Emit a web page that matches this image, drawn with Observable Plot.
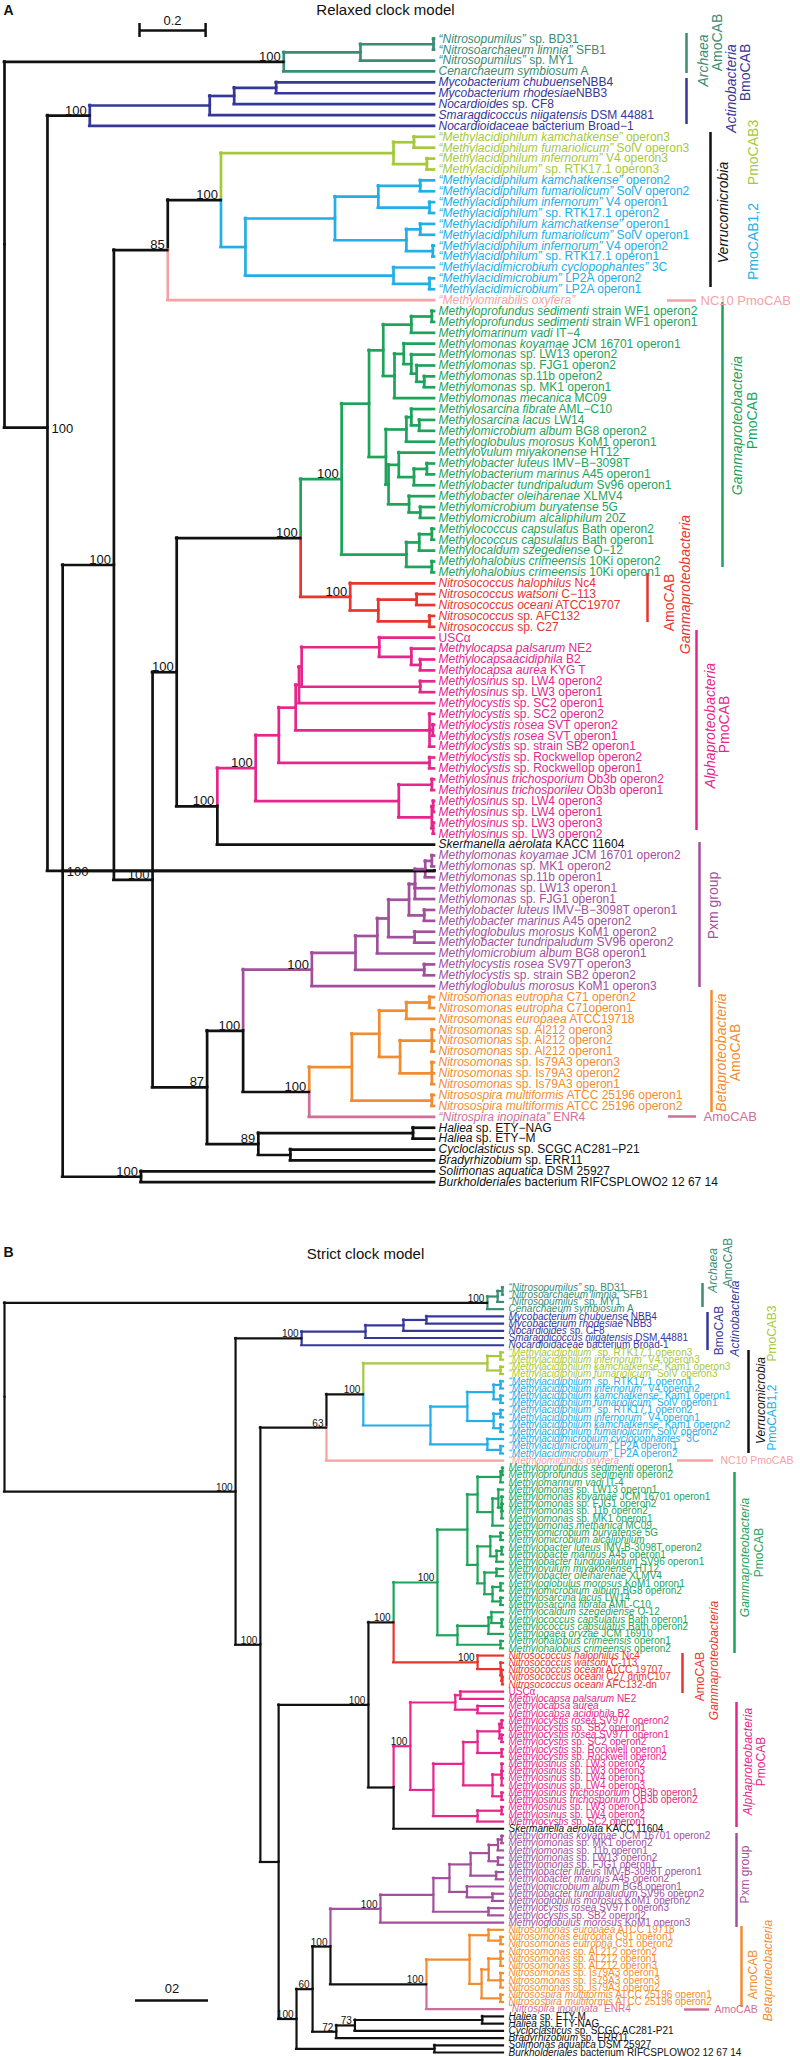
<!DOCTYPE html>
<html><head><meta charset="utf-8">
<script src="https://cdn.jsdelivr.net/npm/d3@7"></script>
<script src="https://cdn.jsdelivr.net/npm/@observablehq/plot@0.6"></script>
<style>body{margin:0;background:#fff;width:800px} svg{display:block}</style>
</head><body><div id="chart"></div>
<script>
// ---------------- DATA ----------------
// Leaves of panel A (group key, label; *...* = italic)
const leavesA = [
 ["arc","*“Nitrosopumilus”* sp. BD31"],["arc","*“Nitrosoarchaeum limnia”* SFB1"],["arc","*“Nitrosopumilus”* sp. MY1"],["arc","*Cenarchaeum symbiosum* A"],
 ["act","*Mycobacterium chubuense*NBB4"],["act","*Mycobacterium rhodesiae*NBB3"],["act","*Nocardioides* sp. CF8"],["act","*Smaragdicoccus niigatensis* DSM 44881"],["act","*Nocardioidaceae* bacterium Broad−1"],
 ["p3","*“Methylacidiphilum kamchatkense”* operon3"],["p3","*“Methylacidiphilum fumariolicum”* SolV operon3"],["p3","*“Methylacidiphilum infernorum”* V4 operon3"],["p3","*“Methylacidiphilum”* sp. RTK17.1 operon3"],
 ["p12","*“Methylacidiphilum kamchatkense”* operon2"],["p12","*“Methylacidiphilum fumariolicum”* SolV operon2"],["p12","*“Methylacidiphilum infernorum”* V4 operon1"],["p12","*“Methylacidiphilum”* sp. RTK17.1 operon2"],
 ["p12","*“Methylacidiphilum kamchatkense”* operon1"],["p12","*“Methylacidiphilum fumariolicum”* SolV operon1"],["p12","*“Methylacidiphilum infernorum”* V4 operon2"],["p12","*“Methylacidiphilum”* sp. RTK17.1 operon1"],
 ["p12","*“Methylacidimicrobium cyclopophantes”* 3C"],["p12","*“Methylacidimicrobium”* LP2A operon2"],["p12","*“Methylacidimicrobium”* LP2A operon1"],
 ["nc10","*“Methylomirabilis oxyfera”*"],
 ["gam","*Methyloprofundus sedimenti* strain WF1 operon2"],["gam","*Methyloprofundus sedimenti* strain WF1 operon1"],["gam","*Methylomarinum vadi* IT−4"],
 ["gam","*Methylomonas koyamae* JCM 16701 operon1"],["gam","*Methylomonas* sp. LW13 operon2"],["gam","*Methylomonas* sp. FJG1 operon2"],["gam","*Methylomonas* sp.11b operon2"],["gam","*Methylomonas* sp. MK1 operon1"],["gam","*Methylomonas mecanica* MC09"],
 ["gam","*Methylosarcina fibrate* AML−C10"],["gam","*Methylosarcina lacus* LW14"],["gam","*Methylomicrobium album* BG8 operon2"],["gam","*Methyloglobulus morosus* KoM1 operon1"],
 ["gam","*Methylovulum miyakonense* HT12"],["gam","*Methylobacter luteus* IMV−B−3098T"],["gam","*Methylobacterium marinus* A45 operon1"],["gam","*Methylobacter tundripaludum* Sv96 operon1"],
 ["gam","*Methylobacter oleiharenae* XLMV4"],["gam","*Methylomicrobium buryatense* 5G"],["gam","*Methylomicrobium alcaliphilum* 20Z"],
 ["gam","*Methylococcus capsulatus* Bath operon2"],["gam","*Methylococcus capsulatus* Bath operon1"],["gam","*Methylocaldum szegediense* O−12"],["gam","*Methylohalobius crimeensis* 10Ki operon2"],["gam","*Methylohalobius crimeensis* 10Ki operon1"],
 ["amog","*Nitrosococcus halophilus* Nc4"],["amog","*Nitrosococcus watsoni* C−113"],["amog","*Nitrosococcus oceani* ATCC19707"],["amog","*Nitrosococcus* sp. AFC132"],["amog","*Nitrosococcus* sp. C27"],
 ["alp","USCα"],["alp","*Methylocapsa palsarum* NE2"],["alp","*Methylocapsaacidiphila* B2"],["alp","*Methylocapsa aurea* KYG T"],
 ["alp","*Methylosinus* sp. LW4 operon2"],["alp","*Methylosinus* sp. LW3 operon1"],["alp","*Methylocystis* sp. SC2 operon1"],
 ["alp","*Methylocystis* sp. SC2 operon2"],["alp","*Methylocystis rosea* SVT operon2"],["alp","*Methylocystis rosea* SVT operon1"],["alp","*Methylocystis* sp. strain SB2 operon1"],
 ["alp","*Methylocystis* sp. Rockwellop operon2"],["alp","*Methylocystis* sp. Rockwellop operon1"],
 ["alp","*Methylosinus trichosporium* Ob3b operon2"],["alp","*Methylosinus trichosporileu* Ob3b operon1"],["alp","*Methylosinus* sp. LW4 operon3"],["alp","*Methylosinus* sp. LW4 operon1"],["alp","*Methylosinus* sp. LW3 operon3"],["alp","*Methylosinus* sp. LW3 operon2"],
 ["blk","*Skermanella aerolata* KACC 11604"],
 ["pxm","*Methylomonas koyamae* JCM 16701 operon2"],["pxm","*Methylomonas* sp. MK1 operon2"],["pxm","*Methylomonas* sp.11b operon1"],["pxm","*Methylomonas* sp. LW13 operon1"],["pxm","*Methylomonas* sp. FJG1 operon1"],
 ["pxm","*Methylobacter luteus* IMV−B−3098T operon1"],["pxm","*Methylobacter marinus* A45 operon2"],["pxm","*Methyloglobulus morosus* KoM1 operon2"],["pxm","*Methylobacter tundripaludum* SV96 operon2"],
 ["pxm","*Methylomicrobium album* BG8 operon1"],["pxm","*Methylocystis rosea* SV97T operon3"],["pxm","*Methylocystis* sp. strain SB2 operon2"],["pxm","*Methyloglobulus morosus* KoM1 operon3"],
 ["bet","*Nitrosomonas eutropha* C71 operon2"],["bet","*Nitrosomonas eutropha* C71operon1"],["bet","*Nitrosomonas europaea* ATCC19718"],
 ["bet","*Nitrosomonas* sp. Al212 operon3"],["bet","*Nitrosomonas* sp. Al212 operon2"],["bet","*Nitrosomonas* sp. Al212 operon1"],
 ["bet","*Nitrosomonas* sp. Is79A3 operon3"],["bet","*Nitrosomonas* sp. Is79A3 operon2"],["bet","*Nitrosomonas* sp. Is79A3 operon1"],
 ["bet","*Nitrosospira multiformis* ATCC 25196 operon1"],["bet","*Nitrosospira multiformis* ATCC 25196 operon2"],
 ["nsp","*“Nitrospira inopinata”* ENR4"],
 ["blk","*Haliea* sp. ETY−NAG"],["blk","*Haliea* sp. ETY−M"],["blk","*Cycloclasticus* sp. SCGC AC281−P21"],["blk","*Bradyrhizobium* sp. ERR11"],
 ["blk","*Solimonas aquatica* DSM 25927"],["blk","*Burkholderiales* bacterium RIFCSPLOWO2 12 67 14"]
];

const leavesB = [
 ["arc","*“Nitrosopumilus”* sp. BD31"],["arc","*“Nitrosoarchaeum limnia”* SFB1"],["arc","*“Nitrosopumilus”* sp. MY1"],["arc","*Cenarchaeum symbiosum* A"],
 ["act","*Mycobacterium chubuense* NBB4"],["act","*Mycobacterium rhodesiae* NBB3"],["act","*Nocardioides* sp. CF8"],["act","*Smaragdicoccus niigatensis* DSM 44881"],["act","*Nocardioidaceae* bacterium Broad-1"],
 ["p3","*“Methylacidiphilum”* sp. RTK17.1 operon3"],["p3","*“Methylacidiphilum infernorum”* V4 operon3"],["p3","*“Methylacidiphilum kamchatkense”* Kam1 operon3"],["p3","*“Methylacidiphilum fumariolicum”* SolV operon3"],
 ["p12","*“Methylacidiphilum”* sp. RTK17.1 operon1"],["p12","*“Methylacidiphilum infernorum”* V4 operon2"],["p12","*“Methylacidiphilum kamchatkense”* Kam1 operon1"],["p12","*“Methylacidiphilum fumariolicum”* SolV operon1"],
 ["p12","*“Methylacidiphilum”* sp. RTK17.1 operon2"],["p12","*“Methylacidiphilum infernorum”* V4 operon1"],["p12","*“Methylacidiphilum kamchatkense”* Kam1 operon2"],["p12","*“Methylacidiphilum fumariolicum”* SolV operon2"],
 ["p12","*“Methylacidimicrobium cyclopophantes”* 3C"],["p12","*“Methylacidimicrobium”* LP2A operon1"],["p12","*“Methylacidimicrobium”* LP2A operon2"],
 ["nc10","*“Methylomirabilis oxyfera”*"],
 ["gam","*Methyloprofundus sedimenti* operon1"],["gam","*Methyloprofundus sedimenti* operon2"],["gam","*Methylomarinum vadi* IT-4"],
 ["gam","*Methylomonas* sp. LW13 operon1"],["gam","*Methylomonas koyamae* JCM 16701 operon1"],["gam","*Methylomonas* sp. FJG1 operon2"],["gam","*Methylomonas* sp. 11b operon2"],["gam","*Methylomonas* sp. MK1 operon1"],["gam","*Methylomonas methanica* MC09"],
 ["gam","*Methylomicrobium buryatense* 5G"],["gam","*Methylomicrobium alcaliphilum*"],["gam","*Methylobacter luteus* IMV-B-3098T operon2"],["gam","*Methylobacte marinus* A45 operon1"],["gam","*Methylobacter tundripaludum* SV96 operon1"],
 ["gam","*Methylovulum miyakonense* HT12"],["gam","*Methylobacter oleiharenae* XLMV4"],["gam","*Methyloglobulus morosus* KoM1 opron1"],["gam","*Methylomicrobium album* BG8 operon2"],["gam","*Methylosarcina lacus* LW14"],["gam","*Methylosarcina fibrata* AML-C10"],
 ["gam","*Methylocaldum szegediense* O-12"],["gam","*Methylococcus capsulatus* Bath operon1"],["gam","*Methylococcus capsulatus* Bath operon2"],["gam","*Methylogaea oryzae* JCM 16910"],["gam","*Methylohalobius crimeensis* operon1"],["gam","*Methylohalobius crimeensis* operon2"],
 ["amog","*Nitrosococcus halophilus* Nc4"],["amog","*Nitrosococcus watsoni* C-113"],["amog","*Nitrosococcus oceani* ATCC 19707"],["amog","*Nitrosococcus oceani* C27 dnmC107"],["amog","*Nitrosococcus oceani* AFC132-dn"],
 ["alp","USCα"],["alp","*Methylocapsa palsarum* NE2"],["alp","*Methylocapsa aurea*"],["alp","*Methylocapsa acidiphila* B2"],
 ["alp","*Methylocystis rosea* SV97T operon2"],["alp","*Methylocystis* sp. SB2 operon1"],["alp","*Methylocystis rosea* SV97T operon1"],["alp","*Methylocystis* sp. SC2 operon2"],
 ["alp","*Methylocystis* sp. Rockwell operon1"],["alp","*Methylocystis* sp. Rockwell operon2"],
 ["alp","*Methylosinus* sp. LW3 operon2"],["alp","*Methylosinus* sp. LW3 operon3"],["alp","*Methylosinus* sp. LW4 operon1"],["alp","*Methylosinus* sp. LW4 operon3"],
 ["alp","*Methylosinus trichosporium* OB3b operon1"],["alp","*Methylosinus trichosporium* OB3b operon2"],
 ["alp","*Methylosinus* sp. LW3 operon1"],["alp","*Methylosinus* sp. LW4 operon2"],["alp","*Methylocystis* sp. SC2 operon1"],
 ["blk","*Skermanella aerolata* KACC 11604"],
 ["pxm","*Methylomonas koyamae* JCM 16701 operon2"],["pxm","*Methylomonas* sp. MK1 operon2"],["pxm","*Methylomonas* sp. 11b operon1"],["pxm","*Methylomonas* sp. LW13 operon2"],["pxm","*Methylomonas* sp. FJG1 operon1"],
 ["pxm","*Methylobacter luteus* IMV-B-3098T operon1"],["pxm","*Methylobacter marinus* A45 operon2"],["pxm","*Methylomicrobium album* BG8 operon1"],["pxm","*Methylobacter tundripaludum* SV96 operon2"],["pxm","*Methyloglobulus morosus* KoM1 operon2"],
 ["pxm","*Methylocystis rosea* SV97T operon3"],["pxm","*Methylocystis* sp. SB2 operon2"],["pxm","*Methyloglobulus morosus* KoM1 operon3"],
 ["bet","*Nitrosomonas europaea* ATCC 19718"],["bet","*Nitrosomonas eutropha* C91 operon1"],["bet","*Nitrosomonas eutropha* C91 operon2"],
 ["bet","*Nitrosomonas* sp. AL212 operon2"],["bet","*Nitrosomonas* sp. AL212 operon1"],["bet","*Nitrosomonas* sp. AL212 operon3"],
 ["bet","*Nitrosomonas* sp. Is79A3 operon1"],["bet","*Nitrosomonas* sp. Is79A3 operon3"],["bet","*Nitrosomonas* sp. Is79A3 operon2"],
 ["bet","*Nitrosospira multiformis* ATCC 25196 operon1"],["bet","*Nitrosospira multiformis* ATCC 25196 operon2"],
 ["nsp","*“Nitrospira inopinata”* ENR4"],
 ["blk","*Haliea* sp. ETY-M"],["blk","*Haliea* sp. ETY-NAG"],["blk","*Cycloclasticus* sp. SCGC AC281-P21"],["blk","*Bradyrhizobium* sp. ERR11"],
 ["blk","*Solimonas aquatica* DSM 25927"],["blk","*Burkholderiales* bacterium RIFCSPLOWO2 12 67 14"]
];

// Tree topology: * = next leaf, ":h" = node height (from tips, subst./site), "#n" = posterior support,
// flag k = stem drawn black, r = support label right of node, "@row" = node row position as drawn
const A_arc = "(((**):0.003,*):0.224,*):0.456#100k";
const A_act = "((((**):0.479,*):0.606,*):0.680,*):1.043#100k";
const A_p3  = "((**):0.062,(**):0.023):0.124";
const A_p12 = "((((**):0.043,(**):0.015):0.170,((**):0.043,(**):0.005):0.085):0.301,(*,(**):0.015):0.124):0.572";
const A_g4  = "(((**):0.008,*):0.070,((*,(*,(*,(**):0.031):0.054):0.070):0.093,*):0.121):0.155";
const A_g5  = "(((*,(**):0.046):0.070,*):0.085,((*,((**):0.023,*):0.062):0.108,(*,(**):0.043):0.077):0.139):0.147";
const A_g3  = "(((**):0.008,*):0.046,(**):0.008):0.085";
const A_nit = "(*,((**):0.054,(**):0.015):0.170):0.255#100";
const A_mc  = "(*,(*,(**):0.043):0.070):0.167";
const A_alp = `(((((${A_mc},(**):0.043):0.402,*):0.410,(*,(**):0.005,*):0.015):0.420,(**):0.015):0.471,((**):0.008,((**):0.004,(**):0.004):0.008):0.108):0.541#100`;
const A_pxm = "(((((((**):0.008,*):0.028,*,*):0.059,(**):0.031):0.077,(**):0.060):0.139,*):0.173,(**):0.031):0.239";
const A_bet = "((((**):0.015,*):0.085,((***):0.008,(***):0.008):0.104):0.167,(**):0.008):0.250";
const A_og1 = "((**):0.065,(**):0.436):0.533#89";
const A_gn  = `(((${A_g4},${A_g5}):0.198,${A_g3}):0.281#100,${A_nit}):0.405#100`;
const A_345 = `(${A_gn},(${A_alp},*):0.657#100):0.780#100`;
const A_87  = `(((${A_pxm},*):0.371#100,(${A_bet},*):0.379#100):0.579#100,${A_og1}):0.688#87`;
const A_85  = `((${A_p3},${A_p12}):0.646#100,*):0.807#85`;
const treeA = `(${A_arc},(${A_act},(((${A_85},(${A_345},${A_87}):0.853#100):0.970#100,(**):0.888#100):1.125#100r)):1.171#100r@36.7):1.301`;

const B_arc = "(((**):0.003,*):0.016,*):0.044#100k";
const B_act = "((((**):0.211,*):0.274,*):0.378,*):0.553#100k";
const B_p3  = "((**):0.008,(**):0.008):0.044";
const B_p12 = "((((**):0.008,(**):0.008):0.027,((**):0.008,(**):0.008):0.027):0.099,(*,(**):0.008):0.044):0.200";
const B_ga1 = "(((**):0.003,*):0.008,((*,(****):0.005):0.014,*):0.030):0.071";
const B_ga2 = "(((**):0.008,((**):0.005,*):0.019):0.036,((**):0.019,((**):0.008,(**):0.008):0.030):0.052):0.071";
const B_gb  = "(((*,(**):0.005):0.033,*):0.041,(**):0.008):0.126";
const B_nit = "(*,(*,(*,(**):0.003):0.005):0.008):0.071#100";
const B_mc  = "((**):0.118,(**):0.071):0.132";
const B_a1  = "(((((**):0.005,(**):0.005):0.011,(**):0.005):0.071,((****):0.005,(**):0.005):0.030):0.110,((**):0.005,*):0.071):0.192";
const B_pxm = "((((((**):0.005,*):0.015,(**):0.015):0.040,(**):0.020):0.090,(*,(**):0.030):0.100):0.148,(**):0.041):0.192";
const B_bet = "((*,(**):0.008):0.041,(((***):0.008,(***):0.008):0.041,(**):0.008):0.060):0.093";
const B_og1 = "(((**):0.058,*):0.407#73,*):0.458#72";
const B_gn  = `(((${B_ga1},${B_ga2}):0.099,${B_gb}):0.181#100,${B_nit}):0.301#100`;
const B_368 = `(${B_gn},((${B_mc},${B_a1}):0.255#100,*):0.301):0.370#100`;
const B_296 = `((((${B_pxm},*):0.337#100,(${B_bet},*):0.211#100):0.474#100,${B_og1}):0.523#60,(**):0.189):0.567#100`;
const B_63  = `((${B_p3},${B_p12}):0.384#100,*):0.485#63`;
const treeB = `(${B_arc},(${B_act},(${B_63},(${B_368},${B_296}):0.616):0.666#100):0.734#100):1.367`;

const scaleBarValue = 0.2;
const titles = ["Relaxed clock model", "Strict clock model"];
const panelLetters = ["A", "B"];
const scaleLabels = ["0.2", "02"];

// ---------------- STYLE / LAYOUT ----------------
const groupColors = {
  arc:"#3a8c74", act:"#36379a", p3:"#a6c93b", p12:"#22aee6", nc10:"#f4a2a4",
  gam:"#1ea35a", amog:"#e8352f", alp:"#e6268b", pxm:"#a2509c", bet:"#f28c30",
  nsp:"#cf6f98", blk:"#111111"
};
// annotation layout in page pixels: line [x, y1, y2], texts [text, italic, x, centerY], hline [x1, x2, y]
const annA = [
 {c:"arc", line:[686,33,73], texts:[["Archaea",1,703,60],["AmoCAB",0,717,42]]},
 {c:"act", line:[686,78,124], texts:[["Actinobacteria",1,731,88],["BmoCAB",0,745,72]]},
 {c:"blk", line:[710,132,287], texts:[["Verrucomicrobia",1,723,212]]},
 {c:"p3", texts:[["PmoCAB3",0,753,152]]},
 {c:"p12", texts:[["PmoCAB1,2",0,753,241]]},
 {c:"nc10", hline:[667,696,300], htext:["NC10 PmoCAB",700,300]},
 {c:"gam", line:[722,302,567], texts:[["Gammaproteobacteria",1,737,425],["PmoCAB",0,752,420]]},
 {c:"amog", line:[647,573,622], texts:[["AmoCAB",0,669,602],["Gammaproteobacteria",1,685,584]]},
 {c:"alp", line:[696,630,830], texts:[["Alphaproteobacteria",1,710,725],["PmoCAB",0,724,724]]},
 {c:"pxm", line:[699,842,987], texts:[["Pxm group",0,713,905]]},
 {c:"bet", line:[711,990,1112], texts:[["Betaproteobacteria",1,721,1052],["AmoCAB",0,735,1052]]},
 {c:"nsp", hline:[668,696,1116], htext:["AmoCAB",703,1116]}
];
const annB = [
 {c:"arc", line:[702,1283,1307], texts:[["Archaea",1,713,1270],["AmoCAB",0,728,1262]]},
 {c:"act", line:[707,1312,1350], texts:[["BmoCAB",0,719,1330],["Actinobacteria",1,735,1318]]},
 {c:"blk", line:[748,1350,1453], texts:[["Verrucomicrobia",1,761,1400]]},
 {c:"p3", texts:[["PmoCAB3",0,772,1333]]},
 {c:"p12", texts:[["PmoCAB1,2",0,772,1417]]},
 {c:"nc10", hline:[677,713,1460], htext:["NC10 PmoCAB",720,1460]},
 {c:"gam", line:[734,1472,1653], texts:[["Gammaproteobacteria",1,745,1557],["PmoCAB",0,759,1552]]},
 {c:"amog", line:[682,1653,1693], texts:[["AmoCAB",0,700,1676],["Gammaproteobacteria",1,714,1660]]},
 {c:"alp", line:[736,1702,1827], texts:[["Alphaproteobacteria",1,748,1761],["PmoCAB",0,761,1761]]},
 {c:"pxm", line:[736,1833,1927], texts:[["Pxm group",0,745,1874]]},
 {c:"bet", line:[741,1926,2007], texts:[["AmoCAB",0,753,1974],["Betaproteobacteria",1,768,1970]]},
 {c:"nsp", hline:[684,709,2009], htext:["AmoCAB",714,2009]}
];

const cfgA = {leaves: leavesA, tree: treeA, ann: annA, top: 0, height: 1220,
  xRange:[4,434], rows:[38.3,1181.7], lw:2.7, leafFont:12, labelDx:4, suppFont:13,
  annFont:14, annHFont:13, title: titles[0], letter: panelLetters[0], titleXY:[385,10], letterXY:[3,10],
  sb:{x:139, y:30, caps:true, labelY:20, label: scaleLabels[0], font:13}};
const cfgB = {leaves: leavesB, tree: treeB, ann: annB, top: 1220, height: 837,
  xRange:[4,503], rows:[1287,2052], lw:2.2, leafFont:10, labelDx:5, suppFont:10,
  annFont:12, annHFont:10.5, title: titles[1], letter: panelLetters[1], titleXY:[365,1254], letterXY:[3,1252],
  sb:{x:135, y:2000, caps:false, labelY:1988, label: scaleLabels[1], font:13}};

// ---------------- TREE HELPERS ----------------
function parseTree(src) {
  const s = src.replace(/\s+/g, "");
  let i = 0, leaf = 0;
  const readNum = () => { const m = /^[0-9.]+/.exec(s.slice(i)); i += m[0].length; return +m[0]; };
  function node() {
    if (s[i] === "*") { i++; return {leaf: leaf++, height: 0, children: []}; }
    if (s[i] !== "(") throw new Error("bad tree at " + i + ": " + s.slice(i, i + 20));
    i++;
    const children = [];
    while (s[i] !== ")") { children.push(node()); if (s[i] === ",") i++; }
    i++;
    const n = {children, height: 0};
    if (s[i] === ":") { i++; n.height = readNum(); }
    if (s[i] === "#") {
      i++; n.support = readNum();
      while (s[i] === "r" || s[i] === "k") { if (s[i] === "r") n.side = "r"; else n.black = true; i++; }
    }
    if (s[i] === "@") { i++; n.row = readNum(); }
    return n;
  }
  const root = node();
  root.nLeaves = leaf;
  return root;
}
function layoutTree(root, leaves) {
  (function walk(n) {
    if (n.leaf !== undefined) { n.y = n.leaf + 1; n.group = leaves[n.leaf][0]; n.stem = n.group; return; }
    n.children.forEach(walk);
    n.y = n.row !== undefined ? n.row : (n.children[0].y + n.children[n.children.length - 1].y) / 2;
    const gs = new Set(n.children.map(c => c.group));
    n.group = gs.size === 1 ? [...gs][0] : "blk";
    n.stem = n.black ? "blk" : n.group;
  })(root);
  const nodes = [], hseg = [], vseg = [];
  (function collect(n, p) {
    nodes.push(n);
    if (p) hseg.push({x1: p.height, x2: n.height, y: n.y, g: n.stem});
    n.children.forEach(c => { vseg.push({x: n.height, y1: n.y, y2: c.y, g: c.stem}); collect(c, n); });
  })(root, null);
  return {nodes, hseg, vseg};
}

function panel(cfg) {
  const root = parseTree(cfg.tree);
  if (root.nLeaves !== cfg.leaves.length) console.error("leaf count mismatch", root.nLeaves, cfg.leaves.length);
  const {nodes, hseg, vseg} = layoutTree(root, cfg.leaves);
  const n = cfg.leaves.length, H = root.height;
  const [x0, x1] = cfg.xRange;
  const r0 = cfg.rows[0] - cfg.top, r1 = cfg.rows[1] - cfg.top;
  const xu = px => H * (x1 - px) / (x1 - x0);
  const yu = py => 1 + (py - cfg.top - r0) * (n - 1) / (r1 - r0);
  const col = g => groupColors[g];
  const leafNodes = nodes.filter(d => d.leaf !== undefined);
  const supp = nodes.filter(d => d.support !== undefined);
  const lines = cfg.ann.filter(a => a.line);
  const hlines = cfg.ann.filter(a => a.hline);
  const rot = cfg.ann.flatMap(a => (a.texts || []).map(t => ({c: a.c, text: t[0], italic: t[1], x: t[2], y: t[3]})));
  const htexts = cfg.ann.filter(a => a.htext).map(a => ({c: a.c, text: a.htext[0], x: a.htext[1], y: a.htext[2]}));
  const sbH = xu(cfg.sb.x);
  const marks = [
    Plot.ruleX(vseg, {x: "x", y1: "y1", y2: "y2", stroke: d => col(d.g), strokeWidth: cfg.lw, strokeLinecap: "square"}),
    Plot.ruleY(hseg, {y: "y", x1: "x1", x2: "x2", stroke: d => col(d.g), strokeWidth: cfg.lw, strokeLinecap: "square"}),
    Plot.text(leafNodes, {x: "height", y: "y", text: d => cfg.leaves[d.leaf][1], fill: d => col(d.group),
      dx: cfg.labelDx, textAnchor: "start", lineAnchor: "middle", fontSize: cfg.leafFont}),
    Plot.text(supp.filter(d => d.side !== "r"), {x: "height", y: "y", text: d => String(d.support),
      dx: -3, dy: -1, textAnchor: "end", lineAnchor: "bottom", fontSize: cfg.suppFont, fill: "#111"}),
    Plot.text(supp.filter(d => d.side === "r"), {x: "height", y: "y", text: d => String(d.support),
      dx: 4, dy: 1, textAnchor: "start", lineAnchor: "middle", fontSize: cfg.suppFont, fill: "#111"}),
    Plot.ruleX(lines, {x: d => xu(d.line[0]), y1: d => yu(d.line[1]), y2: d => yu(d.line[2]), stroke: d => col(d.c), strokeWidth: 2.5}),
    Plot.ruleY(hlines, {y: d => yu(d.hline[2]), x1: d => xu(d.hline[0]), x2: d => xu(d.hline[1]), stroke: d => col(d.c), strokeWidth: 2.5}),
    Plot.text(rot.filter(d => d.italic), {x: d => xu(d.x), y: d => yu(d.y), text: "text", rotate: -90, fontStyle: "italic",
      fill: d => col(d.c), fontSize: cfg.annFont, textAnchor: "middle", lineAnchor: "middle"}),
    Plot.text(rot.filter(d => !d.italic), {x: d => xu(d.x), y: d => yu(d.y), text: "text", rotate: -90,
      fill: d => col(d.c), fontSize: cfg.annFont, textAnchor: "middle", lineAnchor: "middle"}),
    Plot.text(htexts, {x: d => xu(d.x), y: d => yu(d.y), text: "text", textAnchor: "start", fill: d => col(d.c), fontSize: cfg.annHFont}),
    // scale bar
    Plot.ruleY([0], {y: yu(cfg.sb.y), x1: sbH, x2: sbH - scaleBarValue, strokeWidth: 2.5, stroke: "#111"}),
    Plot.text([cfg.sb.label], {x: sbH - scaleBarValue / 2, y: yu(cfg.sb.labelY), text: d => d, fontSize: cfg.sb.font, fill: "#111"}),
    // title + letter
    Plot.text([cfg.title], {x: xu(cfg.titleXY[0]), y: yu(cfg.titleXY[1]), text: d => d, fontSize: 15, fill: "#111"}),
    Plot.text([cfg.letter], {x: xu(cfg.letterXY[0]), y: yu(cfg.letterXY[1]), text: d => d, textAnchor: "start", fontWeight: "bold", fontSize: 14, fill: "#111"})
  ];
  if (cfg.sb.caps) marks.push(Plot.ruleX([sbH, sbH - scaleBarValue], {y1: yu(cfg.sb.y - 7), y2: yu(cfg.sb.y + 7), strokeWidth: 2.5, stroke: "#111"}));
  const svg = Plot.plot({
    width: 800, height: cfg.height, margin: 0,
    x: {domain: [H, 0], range: cfg.xRange, axis: null},
    y: {domain: [1, n], range: [r0, r1], axis: null},
    color: {type: "identity"},
    style: {fontFamily: "'Liberation Sans', Arial, sans-serif", background: "#fff", overflow: "visible"},
    marks
  });
  // italic segments in leaf labels (marked with *...*)
  const NS = "http://www.w3.org/2000/svg";
  svg.querySelectorAll("text").forEach(t => {
    if (t.children.length || !t.textContent.includes("*")) return;
    const s = t.textContent; t.textContent = "";
    s.split("*").forEach((part, k) => {
      if (!part) return;
      const ts = document.createElementNS(NS, "tspan");
      ts.textContent = part;
      if (k % 2) ts.setAttribute("font-style", "italic");
      t.appendChild(ts);
    });
  });
  return svg;
}

const chart = document.getElementById("chart");
chart.appendChild(panel(cfgA));
chart.appendChild(panel(cfgB));
</script>
</body></html>
